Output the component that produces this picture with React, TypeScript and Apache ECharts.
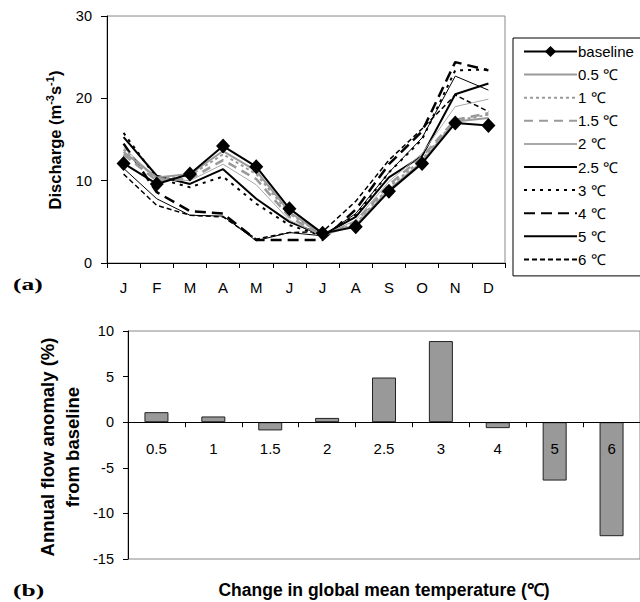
import React, { useEffect, useRef } from "react";
import * as echarts from "echarts";

const months = ["J", "F", "M", "A", "M", "J", "J", "A", "S", "O", "N", "D"];
const seriesNames = ["baseline", "0.5 ℃", "1 ℃", "1.5 ℃", "2 ℃", "2.5 ℃", "3 ℃", "4 ℃", "5 ℃", "6 ℃"];
const baseline = [12.1, 9.6, 10.8, 14.2, 11.7, 6.6, 3.6, 4.4, 8.7, 12.1, 17.0, 16.7];
const t05 = [13.5, 10.4, 10.8, 13.6, 11.2, 6.2, 3.4, 4.6, 8.9, 12.3, 17.2, 17.6];
const t10 = [13.8, 10.2, 10.6, 13.2, 10.8, 6.0, 3.4, 4.8, 9.2, 12.6, 17.3, 18.0];
const t15 = [13.2, 10.0, 10.2, 12.5, 10.2, 5.6, 3.3, 5.0, 9.5, 12.9, 17.4, 18.2];
const t20 = [14.0, 10.3, 10.0, 12.0, 9.5, 5.2, 3.3, 5.2, 9.9, 13.3, 19.0, 19.9];
const t25 = [15.3, 10.6, 9.6, 11.4, 7.8, 5.0, 3.4, 5.6, 10.4, 13.0, 20.5, 21.8];
const t30 = [15.8, 10.3, 9.2, 10.5, 7.2, 4.6, 3.3, 5.8, 11.0, 15.0, 23.4, 23.5];
const t40 = [14.5, 8.6, 6.3, 6.0, 2.8, 2.8, 2.8, 6.5, 12.0, 16.0, 24.4, 23.4];
const t50 = [11.5, 7.8, 5.8, 5.7, 2.7, 3.7, 3.3, 6.0, 11.0, 15.2, 22.7, 21.0];
const t60 = [10.8, 7.0, 5.8, 5.6, 2.9, 3.7, 3.8, 7.5, 12.5, 16.3, 20.4, 18.4];

const tempLabels = ["0.5", "1", "1.5", "2", "2.5", "3", "4", "5", "6"];
const anomaly = [1.1, 0.63, -0.9, 0.47, 4.9, 8.9, -0.65, -6.4, -12.5];

const yTitleParts = [
  { text: "Discharge (m", sup: false },
  { text: "-3", sup: true },
  { text: "s", sup: false },
  { text: "-1", sup: true },
  { text: ")", sup: false },
];

const FONT = "'Liberation Sans', Arial, sans-serif";
const SERIF = "'Liberation Serif', 'Times New Roman', serif";

function measure(text: string, font: string): number {
  const c = document.createElement("canvas").getContext("2d");
  if (!c) return text.length * 8;
  c.font = font;
  return c.measureText(text).width;
}

export default function App() {
  const ref = useRef<HTMLDivElement>(null);
  useEffect(() => {
    if (!ref.current) return;
    const chart = echarts.init(ref.current, null, { renderer: "svg" });
    const lineData = [baseline, t05, t10, t15, t20, t25, t30, t40, t50, t60];
    const styles: any[] = [
      { color: "#000", width: 2, type: "solid" },
      { color: "#9a9a9a", width: 2, type: "solid" },
      { color: "#9a9a9a", width: 2, type: [3, 3] },
      { color: "#9a9a9a", width: 2.5, type: [9, 6] },
      { color: "#a8a8a8", width: 1, type: "solid" },
      { color: "#000", width: 2, type: "solid" },
      { color: "#000", width: 2, type: [3, 5] },
      { color: "#000", width: 2.5, type: [11, 6] },
      { color: "#000", width: 1, type: "solid" },
      { color: "#000", width: 1.5, type: [5, 3] },
    ];
    const lineSeries = lineData.map((d, i) => ({
      name: seriesNames[i],
      type: "line",
      xAxisIndex: 0,
      yAxisIndex: 0,
      data: d,
      symbol: i === 0 ? "diamond" : "none",
      symbolSize: i === 0 ? [14, 15] : 0,
      itemStyle: { color: styles[i].color },
      lineStyle: styles[i],
      z: 10 - i,
    }));
    const legendData = seriesNames.map((n, i) => ({
      name: n,
      itemStyle: { opacity: i === 0 ? 1 : 0 },
    }));

    // rotated y-axis title with superscripts, laid out token by token
    const mainFont = `bold 16.5px ${FONT}`;
    const supFont = `bold 11px ${FONT}`;
    let off = 0;
    const titleChildren: any[] = [];
    yTitleParts.forEach((p) => {
      const f = p.sup ? supFont : mainFont;
      titleChildren.push({
        type: "text",
        x: off,
        y: p.sup ? -5 : 0,
        style: { text: p.text, font: f, fill: "#000", align: "left", verticalAlign: "middle" },
      });
      off += measure(p.text, f);
    });
    const titleCenterY = 140;

    chart.setOption({
      animation: false,
      grid: [
        { left: 107, top: 16, width: 398, height: 247, show: true, borderColor: "#888", borderWidth: 1 },
        { left: 128, top: 331, right: -4, height: 228, show: true, borderColor: "#888", borderWidth: 1 },
      ],
      legend: {
        data: legendData,
        orient: "vertical",
        left: 513,
        top: 38,
        padding: [6, 16, 9, 10],
        itemWidth: 53,
        itemHeight: 14,
        itemGap: 8.1,
        borderColor: "#000",
        borderWidth: 1,
        backgroundColor: "#fff",
        textStyle: { fontFamily: FONT, fontSize: 15, color: "#000", padding: [0, 0, 0, -4] },
      },
      xAxis: [
        {
          type: "category",
          gridIndex: 0,
          data: months,
          boundaryGap: true,
          axisLine: { lineStyle: { color: "#000", width: 1 } },
          axisTick: { show: true, length: 5, lineStyle: { color: "#000" } },
          axisLabel: { color: "#000", fontFamily: FONT, fontSize: 15, margin: 17 },
        },
        {
          type: "category",
          gridIndex: 1,
          data: tempLabels,
          boundaryGap: true,
          z: 5,
          offset: -136.8,
          axisLine: { onZero: false, lineStyle: { color: "#000", width: 1 } },
          axisTick: { show: true, length: 5, lineStyle: { color: "#000" } },
          axisLabel: { color: "#000", fontFamily: FONT, fontSize: 15, margin: 19 },
        },
      ],
      yAxis: [
        {
          type: "value",
          gridIndex: 0,
          min: 0,
          max: 30,
          interval: 10,
          splitLine: { show: false },
          axisLine: { show: true, lineStyle: { color: "#000", width: 1 } },
          axisTick: { show: true, length: 6, lineStyle: { color: "#000" } },
          axisLabel: { color: "#000", fontFamily: FONT, fontSize: 14.5, margin: 15 },
        },
        {
          type: "value",
          gridIndex: 1,
          min: -15,
          max: 10,
          interval: 5,
          splitLine: { show: false },
          axisLine: { show: true, onZero: false, lineStyle: { color: "#000", width: 1 } },
          axisTick: { show: true, length: 5, lineStyle: { color: "#000" } },
          axisLabel: { color: "#000", fontFamily: FONT, fontSize: 14.5, margin: 14 },
        },
      ],
      series: [
        ...lineSeries,
        {
          name: "anomaly",
          type: "bar",
          xAxisIndex: 1,
          yAxisIndex: 1,
          data: anomaly,
          barWidth: 24,
          itemStyle: { color: "#999999", borderColor: "#222", borderWidth: 1 },
          z: 2,
        },
      ],
      graphic: [
        {
          type: "group",
          x: 55,
          y: titleCenterY + off / 2,
          rotation: Math.PI / 2,
          children: titleChildren,
        },
        {
          type: "text",
          x: 60,
          y: 447,
          rotation: Math.PI / 2,
          style: {
            text: "Annual flow anomaly (%)\nfrom baseline",
            align: "center",
            verticalAlign: "middle",
            font: `bold 18.5px ${FONT}`,
            lineHeight: 25,
            fill: "#000",
          },
        },
        {
          type: "text",
          x: 384,
          y: 590,
          style: {
            text: "Change in global mean temperature (℃)",
            align: "center",
            verticalAlign: "middle",
            font: `bold 17.5px ${FONT}`,
            fill: "#000",
          },
        },
        {
          type: "text",
          x: 13,
          y: 285,
          scaleX: 1.5,
          style: { text: "(a)", verticalAlign: "middle", font: `bold 17px ${SERIF}`, fill: "#000" },
        },
        {
          type: "text",
          x: 13,
          y: 591,
          scaleX: 1.5,
          style: { text: "(b)", verticalAlign: "middle", font: `bold 17px ${SERIF}`, fill: "#000" },
        },
      ],
    });
    return () => chart.dispose();
  }, []);
  return <div ref={ref} style={{ width: 640, height: 602, position: "absolute", left: 0, top: 0 }} />;
}
